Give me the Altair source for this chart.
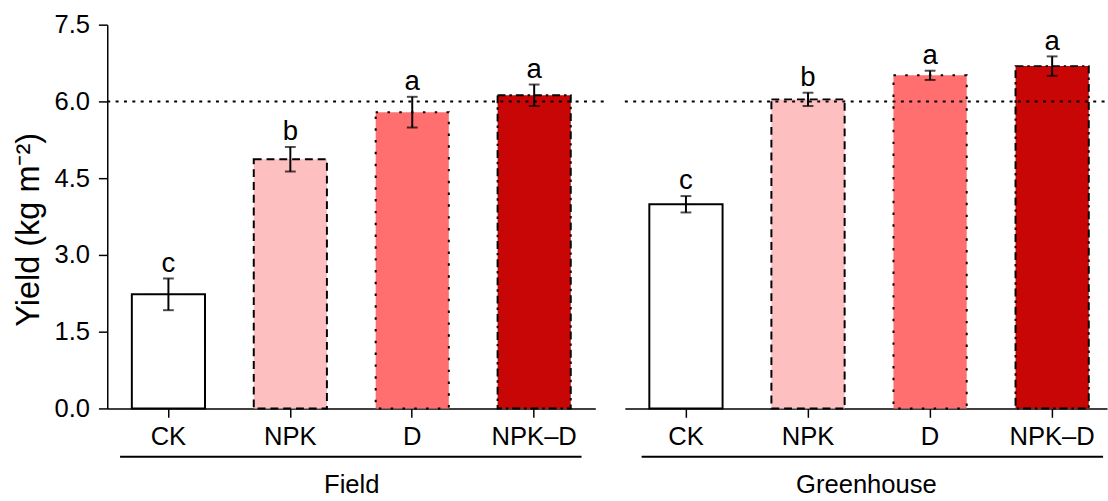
import altair as alt
import pandas as pd

groups = ["Field"] * 4 + ["Greenhouse"] * 4
treatments = ["CK", "NPK", "D", "NPK–D"] * 2
yields = [2.23, 4.87, 5.79, 6.12, 3.99, 6.04, 6.51, 6.69]
errors = [0.31, 0.24, 0.30, 0.21, 0.16, 0.13, 0.09, 0.19]
letters = ["c", "b", "a", "a", "c", "b", "a", "a"]

cats = ["CK", "NPK", "D", "NPK–D"]
fills = ["#ffffff", "#fdbfbf", "#ff6f6f", "#c90606"]
dashes = [[1, 0], [8, 5], [2.5, 9.5], [8, 4, 2.5, 4]]
y_ticks = [0, 1.5, 3.0, 4.5, 6.0, 7.5]
ref_value = 6.0

df = pd.DataFrame({
    "group": groups,
    "treatment": treatments,
    "yield": yields,
    "err": errors,
    "letter": letters,
})
df["lo"] = df["yield"] - df["err"]
df["hi"] = df["yield"] + df["err"]

FONT = "Liberation Sans"
H = 390


def panel(g, show_y, width, pad_outer, align, line_x, ref_x2):
    base = alt.Chart(df).transform_filter(alt.datum.group == g)
    xenc = alt.X(
        "treatment:N",
        sort=cats,
        scale=alt.Scale(paddingInner=0.4, paddingOuter=pad_outer, align=align),
        axis=alt.Axis(
            title=g,
            labelAngle=0,
            labelFontSize=26,
            labelPadding=7,
            labelColor="black",
            domainColor="black",
            domainWidth=1.5,
            tickColor="black",
            tickWidth=1.5,
            tickSize=9,
            titleFontSize=26,
            titleFontWeight="normal",
            titleColor="black",
            titleBaseline="alphabetic",
            titleY=85,
            titleX=width / 2,
        ),
    )
    if show_y:
        yaxis = alt.Axis(
            title="Yield (kg m⁻²)",
            values=y_ticks,
            format=".1f",
            grid=False,
            labelFontSize=26,
            labelPadding=9,
            labelColor="black",
            domainColor="black",
            domainWidth=1.5,
            tickColor="black",
            tickWidth=1.5,
            tickSize=9,
            titleFontSize=33,
            titleFontWeight="normal",
            titleColor="black",
            titlePadding=9,
            titleY=208,
        )
    else:
        yaxis = None
    yscale = alt.Scale(domain=[0, 7.5], nice=False, zero=True)

    bars = base.mark_bar(strokeWidth=2, stroke="black").encode(
        x=xenc,
        y=alt.Y("yield:Q", scale=yscale, axis=yaxis),
        fill=alt.Fill("treatment:N", scale=alt.Scale(domain=cats, range=fills), legend=None),
        strokeDash=alt.StrokeDash("treatment:N", scale=alt.Scale(domain=cats, range=dashes), legend=None),
    )
    ref = alt.Chart(pd.DataFrame({"v": [ref_value]})).mark_rule(
        color="black", strokeWidth=2, strokeDash=[3, 5.5]
    ).encode(y=alt.Y("v:Q", scale=yscale), x=alt.value(0), x2=alt.value(ref_x2))
    err = base.mark_rule(color="black", strokeWidth=2).encode(
        x=alt.X("treatment:N", sort=cats), y="lo:Q", y2="hi:Q"
    )
    cap_lo = base.mark_tick(color="black", thickness=2, size=11, orient="horizontal").encode(
        x=alt.X("treatment:N", sort=cats), y="lo:Q"
    )
    cap_hi = base.mark_tick(color="black", thickness=2, size=11, orient="horizontal").encode(
        x=alt.X("treatment:N", sort=cats), y="hi:Q"
    )
    txt = base.mark_text(font=FONT, fontSize=28, baseline="alphabetic", dy=-7, color="black").encode(
        x=alt.X("treatment:N", sort=cats), y="hi:Q", text="letter:N"
    )
    gline = alt.Chart(pd.DataFrame({"g": [g]})).mark_rule(color="black", strokeWidth=2).encode(
        x=alt.value(line_x[0]), x2=alt.value(line_x[1]), y=alt.value(H + 49)
    )
    return alt.layer(bars, ref, err, cap_lo, cap_hi, txt, gline).properties(width=width, height=H)


left = panel("Field", True, 496, 0.2016, 0.5, (13, 482), 510)
right = panel("Greenhouse", False, 490, 0.175, 0.573, (17, 486), 490)

chart = alt.hconcat(left, right, spacing=14).resolve_scale(
    x="independent", fill="shared", strokeDash="shared"
).properties(
    padding={"left": 12, "top": 8, "right": 0, "bottom": 0}
).configure(
    font=FONT
).configure_view(stroke=None)

chart.save("out.html", embed_options={"renderer": "svg", "actions": False})
